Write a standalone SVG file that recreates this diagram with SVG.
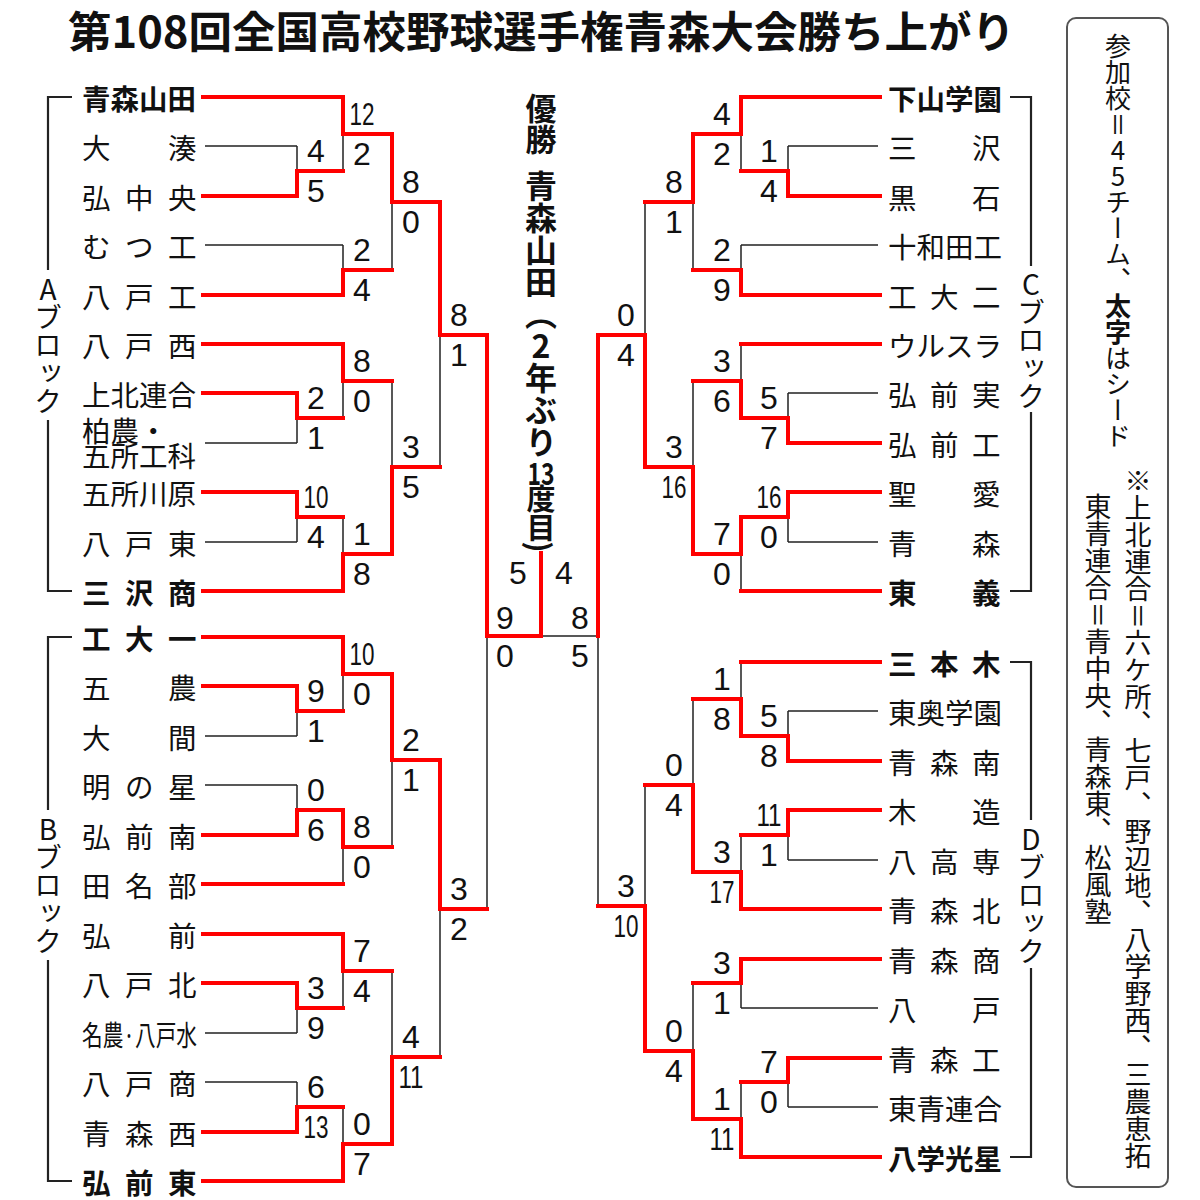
<svg xmlns="http://www.w3.org/2000/svg" width="1200" height="1200" viewBox="0 0 1200 1200">
<style>
text{font-family:"Noto Sans CJK JP","Noto Sans CJK SC",sans-serif;fill:#111}
.t{font-size:28.5px;dominant-baseline:central}
.b{font-weight:bold}
.n{font-family:"Liberation Sans",Arial,sans-serif;font-size:32px;text-anchor:middle;dominant-baseline:central}
.v{writing-mode:vertical-rl;text-orientation:upright}
.r{stroke:#f00;stroke-width:4;fill:none;stroke-linecap:square;stroke-linejoin:miter}
.k{stroke:#222;stroke-width:1.5;fill:none}
.br{stroke:#222;stroke-width:2.2;fill:none}
</style>
<rect width="1200" height="1200" fill="#fff"/>
<text x="68" y="29" font-size="43" font-weight="bold" textLength="947" lengthAdjust="spacingAndGlyphs" dominant-baseline="central">第108回全国高校野球選手権青森大会勝ち上がり</text>

<g id="connectors">
<g class="k">
<path d="M205,146H297 M205,245H343 M205,443H297 M205,542H297 M205,736H297 M205,785H297 M205,1033H297 M205,1082H297"/>
<path d="M878,146H788 M878,245H741 M878,393H788 M878,542H788 M878,711H788 M878,860H788 M878,1008H741 M878,1107H788"/>
<path d="M297,146V171 M343,171V134 M343,245V270 M392,270V202 M297,443V418 M343,418V381 M297,542V517 M343,517V554 M392,381V467 M440,467V335"/>
<path d="M297,736V711 M343,711V674 M297,785V810 M343,884V847 M392,847V760 M297,1033V1008 M343,1008V971 M297,1082V1107 M343,1107V1144 M392,971V1057 M440,1057V909"/>
<path d="M487,909V636 M598,906V636H541"/>
<path d="M788,146V171 M741,171V134 M741,245V270 M693,270V202 M788,393V418 M741,344V381 M788,542V517 M741,591V554 M693,381V467 M645,202V335"/>
<path d="M788,711V736 M741,662V699 M788,860V835 M741,835V872 M693,699V785 M741,1008V983 M788,1107V1082 M741,1082V1119 M693,983V1051 M645,785V906"/>
</g>
<g class="r">
<path d="M203,97H343 M203,196H297 M203,295H343 M203,344H343 M203,393H297 M203,492H297 M203,591H343"/>
<path d="M203,637H343 M203,686H297 M203,835H297 M203,884H343 M203,934H343 M203,983H297 M203,1132H297 M203,1181H343"/>
<path d="M880,97H741 M880,196H788 M880,295H741 M880,344H741 M880,443H788 M880,492H788 M880,591H741"/>
<path d="M880,662H741 M880,761H788 M880,810H788 M880,909H741 M880,959H741 M880,1058H788 M880,1157H741"/>
<path d="M297,196V171H343 M343,97V134H392 M343,295V270H392 M392,134V202H440 M297,393V418H343 M343,344V381H392 M297,492V517H343 M343,591V554H392 M392,554V467H440 M440,202V335H487"/>
<path d="M297,686V711H343 M343,637V674H392 M297,835V810H343 M343,810V847H392 M392,674V760H440 M297,983V1008H343 M343,934V971H392 M297,1132V1107H343 M343,1181V1144H392 M392,1144V1057H440 M440,760V909H487"/>
<path d="M487,335V636H541V553 M598,335V636"/>
<path d="M788,196V171H741 M741,97V134H693 M741,295V270H693 M693,134V202H645 M788,443V418H741 M741,418V381H693 M788,492V517H741 M741,517V554H693 M693,554V467H645 M645,467V335H598"/>
<path d="M788,761V736H741 M741,736V699H693 M788,810V835H741 M741,909V872H693 M693,872V785H645 M741,959V983H693 M788,1058V1082H741 M741,1157V1119H693 M693,1119V1051H645 M645,1051V906H598"/>
</g>
<g class="br">
<path d="M72,97H48V270 M48,420V591H72"/>
<path d="M72,637H48V810 M48,960V1181H72"/>
<path d="M1010,97H1031V266 M1031,412V591H1010"/>
<path d="M1010,662H1031V820 M1031,968V1157H1010"/>
</g>
</g>

<g id="block-a"><text class="v" x="48" y="275" font-size="28">Aブロック</text></g>
<g id="block-b"><text class="v" x="48" y="815" font-size="28">Bブロック</text></g>
<g id="block-c"><text class="v" x="1031" y="270" font-size="28">Cブロック</text></g>
<g id="block-d"><text class="v" x="1031" y="825" font-size="28">Dブロック</text></g>

<g id="team-a1"><text class="t b" x="82" y="97">青森山田</text></g>
<g id="team-a2"><text class="t" x="82 168" y="146">大湊</text></g>
<g id="team-a3"><text class="t" x="82 125 168" y="196">弘中央</text></g>
<g id="team-a4"><text class="t" x="82 125 168" y="245">むつ工</text></g>
<g id="team-a5"><text class="t" x="82 125 168" y="295">八戸工</text></g>
<g id="team-a6"><text class="t" x="82 125 168" y="344">八戸西</text></g>
<g id="team-a7"><text class="t" x="82" y="393">上北連合</text></g>
<g id="team-a8"><text class="t" font-size="27"><tspan x="82" y="429">柏農・</tspan><tspan x="82" y="454" textLength="114" lengthAdjust="spacingAndGlyphs">五所工科</tspan></text></g>
<g id="team-a9"><text class="t" x="82" y="492">五所川原</text></g>
<g id="team-a10"><text class="t" x="82 125 168" y="542">八戸東</text></g>
<g id="team-a11"><text class="t b" x="82 125 168" y="591">三沢商</text></g>

<g id="team-b1"><text class="t b" x="82 125 168" y="637">工大一</text></g>
<g id="team-b2"><text class="t" x="82 168" y="686">五農</text></g>
<g id="team-b3"><text class="t" x="82 168" y="736">大間</text></g>
<g id="team-b4"><text class="t" x="82 125 168" y="785">明の星</text></g>
<g id="team-b5"><text class="t" x="82 125 168" y="835">弘前南</text></g>
<g id="team-b6"><text class="t" x="82 125 168" y="884">田名部</text></g>
<g id="team-b7"><text class="t" x="82 168" y="934">弘前</text></g>
<g id="team-b8"><text class="t" x="82 125 168" y="983">八戸北</text></g>
<g id="team-b9"><text class="t" x="82" y="1033" font-size="24" textLength="115" lengthAdjust="spacingAndGlyphs">名農·八戸水</text></g>
<g id="team-b10"><text class="t" x="82 125 168" y="1082">八戸商</text></g>
<g id="team-b11"><text class="t" x="82 125 168" y="1132">青森西</text></g>
<g id="team-b12"><text class="t b" x="82 125 168" y="1181">弘前東</text></g>

<g id="team-c1"><text class="t b" x="888" y="97">下山学園</text></g>
<g id="team-c2"><text class="t" x="888 972" y="146">三沢</text></g>
<g id="team-c3"><text class="t" x="888 972" y="196">黒石</text></g>
<g id="team-c4"><text class="t" x="888" y="245">十和田工</text></g>
<g id="team-c5"><text class="t" x="888 930 972" y="295">工大二</text></g>
<g id="team-c6"><text class="t" x="888" y="344">ウルスラ</text></g>
<g id="team-c7"><text class="t" x="888 930 972" y="393">弘前実</text></g>
<g id="team-c8"><text class="t" x="888 930 972" y="443">弘前工</text></g>
<g id="team-c9"><text class="t" x="888 972" y="492">聖愛</text></g>
<g id="team-c10"><text class="t" x="888 972" y="542">青森</text></g>
<g id="team-c11"><text class="t b" x="888 972" y="591">東義</text></g>

<g id="team-d1"><text class="t b" x="888 930 972" y="662">三本木</text></g>
<g id="team-d2"><text class="t" x="888" y="711">東奥学園</text></g>
<g id="team-d3"><text class="t" x="888 930 972" y="761">青森南</text></g>
<g id="team-d4"><text class="t" x="888 972" y="810">木造</text></g>
<g id="team-d5"><text class="t" x="888 930 972" y="860">八高専</text></g>
<g id="team-d6"><text class="t" x="888 930 972" y="909">青森北</text></g>
<g id="team-d7"><text class="t" x="888 930 972" y="959">青森商</text></g>
<g id="team-d8"><text class="t" x="888 972" y="1008">八戸</text></g>
<g id="team-d9"><text class="t" x="888 930 972" y="1058">青森工</text></g>
<g id="team-d10"><text class="t" x="888" y="1107">東青連合</text></g>
<g id="team-d11"><text class="t b" x="888" y="1157">八学光星</text></g>

<g id="champion">
<text class="v b" x="541" y="93" font-size="31">優勝</text>
<text class="v b" x="541" y="170" font-size="32">青森山田（2年ぶり</text>
<text class="b" x="541" y="471" font-family="Liberation Sans,Arial,sans-serif" font-size="31" text-anchor="middle" dominant-baseline="central" textLength="27" lengthAdjust="spacingAndGlyphs">13</text>
<text class="v b" x="541" y="484" font-size="29">度目</text>
<text class="b" x="0" y="0" font-size="30" text-anchor="middle" dominant-baseline="central" transform="translate(541,547) rotate(90)">)</text>
</g>

<g id="scores">
<text class="n" x="316" y="151">4</text><text class="n" x="316" y="191">5</text>
<text class="n" x="362" y="114" textLength="25" lengthAdjust="spacingAndGlyphs">12</text><text class="n" x="362" y="154">2</text>
<text class="n" x="362" y="250">2</text><text class="n" x="362" y="290">4</text>
<text class="n" x="411" y="182">8</text><text class="n" x="411" y="222">0</text>
<text class="n" x="316" y="398">2</text><text class="n" x="316" y="438">1</text>
<text class="n" x="362" y="361">8</text><text class="n" x="362" y="401">0</text>
<text class="n" x="316" y="497" textLength="25" lengthAdjust="spacingAndGlyphs">10</text><text class="n" x="316" y="537">4</text>
<text class="n" x="362" y="534">1</text><text class="n" x="362" y="574">8</text>
<text class="n" x="411" y="447">3</text><text class="n" x="411" y="487">5</text>
<text class="n" x="459" y="315">8</text><text class="n" x="459" y="355">1</text>
<text class="n" x="316" y="691">9</text><text class="n" x="316" y="731">1</text>
<text class="n" x="362" y="654" textLength="25" lengthAdjust="spacingAndGlyphs">10</text><text class="n" x="362" y="694">0</text>
<text class="n" x="316" y="790">0</text><text class="n" x="316" y="830">6</text>
<text class="n" x="362" y="827">8</text><text class="n" x="362" y="867">0</text>
<text class="n" x="411" y="740">2</text><text class="n" x="411" y="780">1</text>
<text class="n" x="316" y="988">3</text><text class="n" x="316" y="1028">9</text>
<text class="n" x="362" y="951">7</text><text class="n" x="362" y="991">4</text>
<text class="n" x="316" y="1087">6</text><text class="n" x="316" y="1127" textLength="25" lengthAdjust="spacingAndGlyphs">13</text>
<text class="n" x="362" y="1124">0</text><text class="n" x="362" y="1164">7</text>
<text class="n" x="411" y="1037">4</text><text class="n" x="411" y="1077" textLength="25" lengthAdjust="spacingAndGlyphs">11</text>
<text class="n" x="459" y="889">3</text><text class="n" x="459" y="929">2</text>
<text class="n" x="505" y="618">9</text><text class="n" x="505" y="656">0</text>
<text class="n" x="518" y="573">5</text><text class="n" x="564" y="573">4</text>
<text class="n" x="580" y="618">8</text><text class="n" x="580" y="656">5</text>
<text class="n" x="769" y="151">1</text><text class="n" x="769" y="191">4</text>
<text class="n" x="722" y="114">4</text><text class="n" x="722" y="154">2</text>
<text class="n" x="722" y="250">2</text><text class="n" x="722" y="290">9</text>
<text class="n" x="674" y="182">8</text><text class="n" x="674" y="222">1</text>
<text class="n" x="769" y="398">5</text><text class="n" x="769" y="438">7</text>
<text class="n" x="722" y="361">3</text><text class="n" x="722" y="401">6</text>
<text class="n" x="769" y="497" textLength="25" lengthAdjust="spacingAndGlyphs">16</text><text class="n" x="769" y="537">0</text>
<text class="n" x="722" y="534">7</text><text class="n" x="722" y="574">0</text>
<text class="n" x="674" y="447">3</text><text class="n" x="674" y="487" textLength="25" lengthAdjust="spacingAndGlyphs">16</text>
<text class="n" x="626" y="315">0</text><text class="n" x="626" y="355">4</text>
<text class="n" x="769" y="716">5</text><text class="n" x="769" y="756">8</text>
<text class="n" x="722" y="679">1</text><text class="n" x="722" y="719">8</text>
<text class="n" x="769" y="815" textLength="25" lengthAdjust="spacingAndGlyphs">11</text><text class="n" x="769" y="855">1</text>
<text class="n" x="722" y="852">3</text><text class="n" x="722" y="892" textLength="25" lengthAdjust="spacingAndGlyphs">17</text>
<text class="n" x="674" y="765">0</text><text class="n" x="674" y="805">4</text>
<text class="n" x="722" y="963">3</text><text class="n" x="722" y="1003">1</text>
<text class="n" x="769" y="1062">7</text><text class="n" x="769" y="1102">0</text>
<text class="n" x="722" y="1099">1</text><text class="n" x="722" y="1139" textLength="25" lengthAdjust="spacingAndGlyphs">11</text>
<text class="n" x="674" y="1031">0</text><text class="n" x="674" y="1071">4</text>
<text class="n" x="626" y="886">3</text><text class="n" x="626" y="926" textLength="25" lengthAdjust="spacingAndGlyphs">10</text>
</g>

<g id="note">
<rect x="1067" y="18" width="101" height="1169" rx="9" fill="none" stroke="#555" stroke-width="2"/>
<text class="v" x="1118" y="33" font-size="26">参加校＝45チーム、<tspan font-weight="bold">太字</tspan>はシード</text>
<text class="v" x="1138" y="467" font-size="27">※上北連合＝六ケ所、七戸、野辺地、八学野西、三農恵拓</text>
<text class="v" x="1098" y="493" font-size="27">東青連合＝青中央、青森東、松風塾</text>
</g>
</svg>
